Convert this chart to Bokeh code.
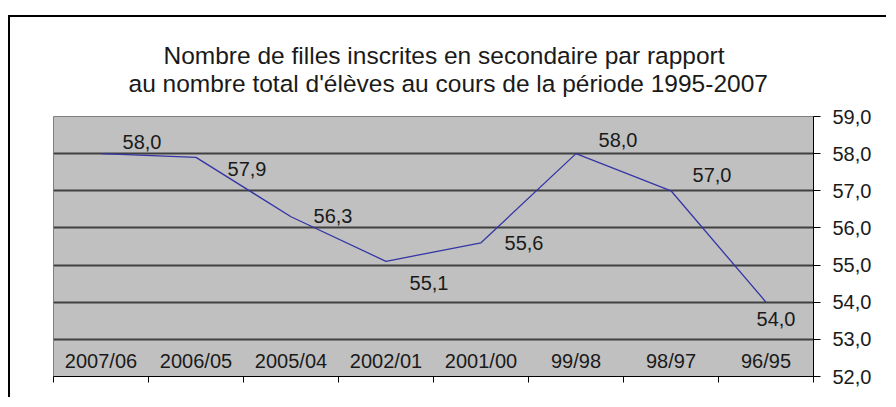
from bokeh.plotting import figure
from bokeh.models import FixedTicker, Range1d, Title, ColumnDataSource
from bokeh.core.properties import value
from bokeh.embed import file_html
from bokeh.resources import INLINE

# ---- data ----
categories = ["2007/06", "2006/05", "2005/04", "2002/01", "2001/00", "99/98", "98/97", "96/95"]
values = [58.0, 57.9, 56.3, 55.1, 55.6, 58.0, 57.0, 54.0]
value_labels = ["58,0", "57,9", "56,3", "55,1", "55,6", "58,0", "57,0", "54,0"]
y_ticks = [52, 53, 54, 55, 56, 57, 58, 59]
y_tick_labels = ["52,0", "53,0", "54,0", "55,0", "56,0", "57,0", "58,0", "59,0"]
title_line1 = "Nombre de filles inscrites en secondaire par rapport"
title_line2 = "au nombre total d'élèves au cours de la période 1995-2007"

# ---- label placement (screen pixel offsets) ----
label_dx = [41, 51, 42, 43, 43, 42, 41, 10]
label_dy = [-12, 12, -1, 22, 0, -14, -16, 17]

FONT = "Liberation Sans"
TEXT_COLOR = "#1a1a1a"

xs = list(range(len(categories)))
src = ColumnDataSource(dict(x=xs, y=values, label=value_labels, dx=label_dx, dy=label_dy))

p = figure(width=878, height=382,
           x_range=Range1d(-0.5, len(categories) - 0.5),
           y_range=Range1d(y_ticks[0], y_ticks[-1]),
           y_axis_location="right",
           output_backend="svg", toolbar_location=None,
           min_border_left=43, min_border_right=75, min_border_top=99, min_border_bottom=23,
           background_fill_color="#c0c0c0", border_fill_color="white",
           outline_line_color="#808080", outline_line_width=1)

p.styles = {"border-top": "2px solid black", "border-left": "2px solid black",
            "margin-top": "15px", "margin-left": "8px"}

# titles
t2 = Title(text=title_line2, align="left", offset=75, text_font=FONT, text_font_size="24.5px",
           text_font_style="normal", text_color=TEXT_COLOR, standoff=39)
p.add_layout(t2, "above")
t1 = Title(text=title_line1, align="left", offset=110, text_font=FONT, text_font_size="24.5px",
           text_font_style="normal", text_color=TEXT_COLOR, standoff=-40)
p.add_layout(t1, "above")

# grid
p.xgrid.visible = False
p.ygrid.ticker = FixedTicker(ticks=y_ticks[1:-1])
p.ygrid.grid_line_color = "#404040"
p.ygrid.grid_line_width = 2

# x axis: labels inside the plot area, ticks between categories
xa = p.xaxis[0]
xa.ticker = FixedTicker(ticks=xs, minor_ticks=[x - 0.5 for x in xs] + [xs[-1] + 0.5])
xa.major_label_overrides = {x: c for x, c in zip(xs, categories)}
xa.major_tick_out = 0
xa.major_tick_in = 0
xa.minor_tick_out = 6
xa.minor_tick_in = 0
xa.minor_tick_line_color = "black"
xa.axis_line_color = "black"
xa.major_label_standoff = -33
xa.major_label_text_font = FONT
xa.major_label_text_font_size = "20px"
xa.major_label_text_color = TEXT_COLOR

# y axis on the right
ya = p.yaxis[0]
ya.ticker = FixedTicker(ticks=y_ticks)
ya.major_label_overrides = {t: l for t, l in zip(y_ticks, y_tick_labels)}
ya.major_tick_out = 7
ya.major_tick_in = 0
ya.minor_tick_line_color = None
ya.axis_line_color = "black"
ya.major_tick_line_color = "black"
ya.major_label_standoff = 12
ya.major_label_text_font = FONT
ya.major_label_text_font_size = "20px"
ya.major_label_text_color = TEXT_COLOR

# series
p.line(x="x", y="y", source=src, line_color="#3535a5", line_width=1.3)
p.text(x="x", y="y", text="label", x_offset="dx", y_offset="dy", source=src,
       text_align="center", text_baseline="middle",
       text_font=value(FONT), text_font_size="20px", text_color=TEXT_COLOR)

open("out.html", "w").write(file_html(p, INLINE))
